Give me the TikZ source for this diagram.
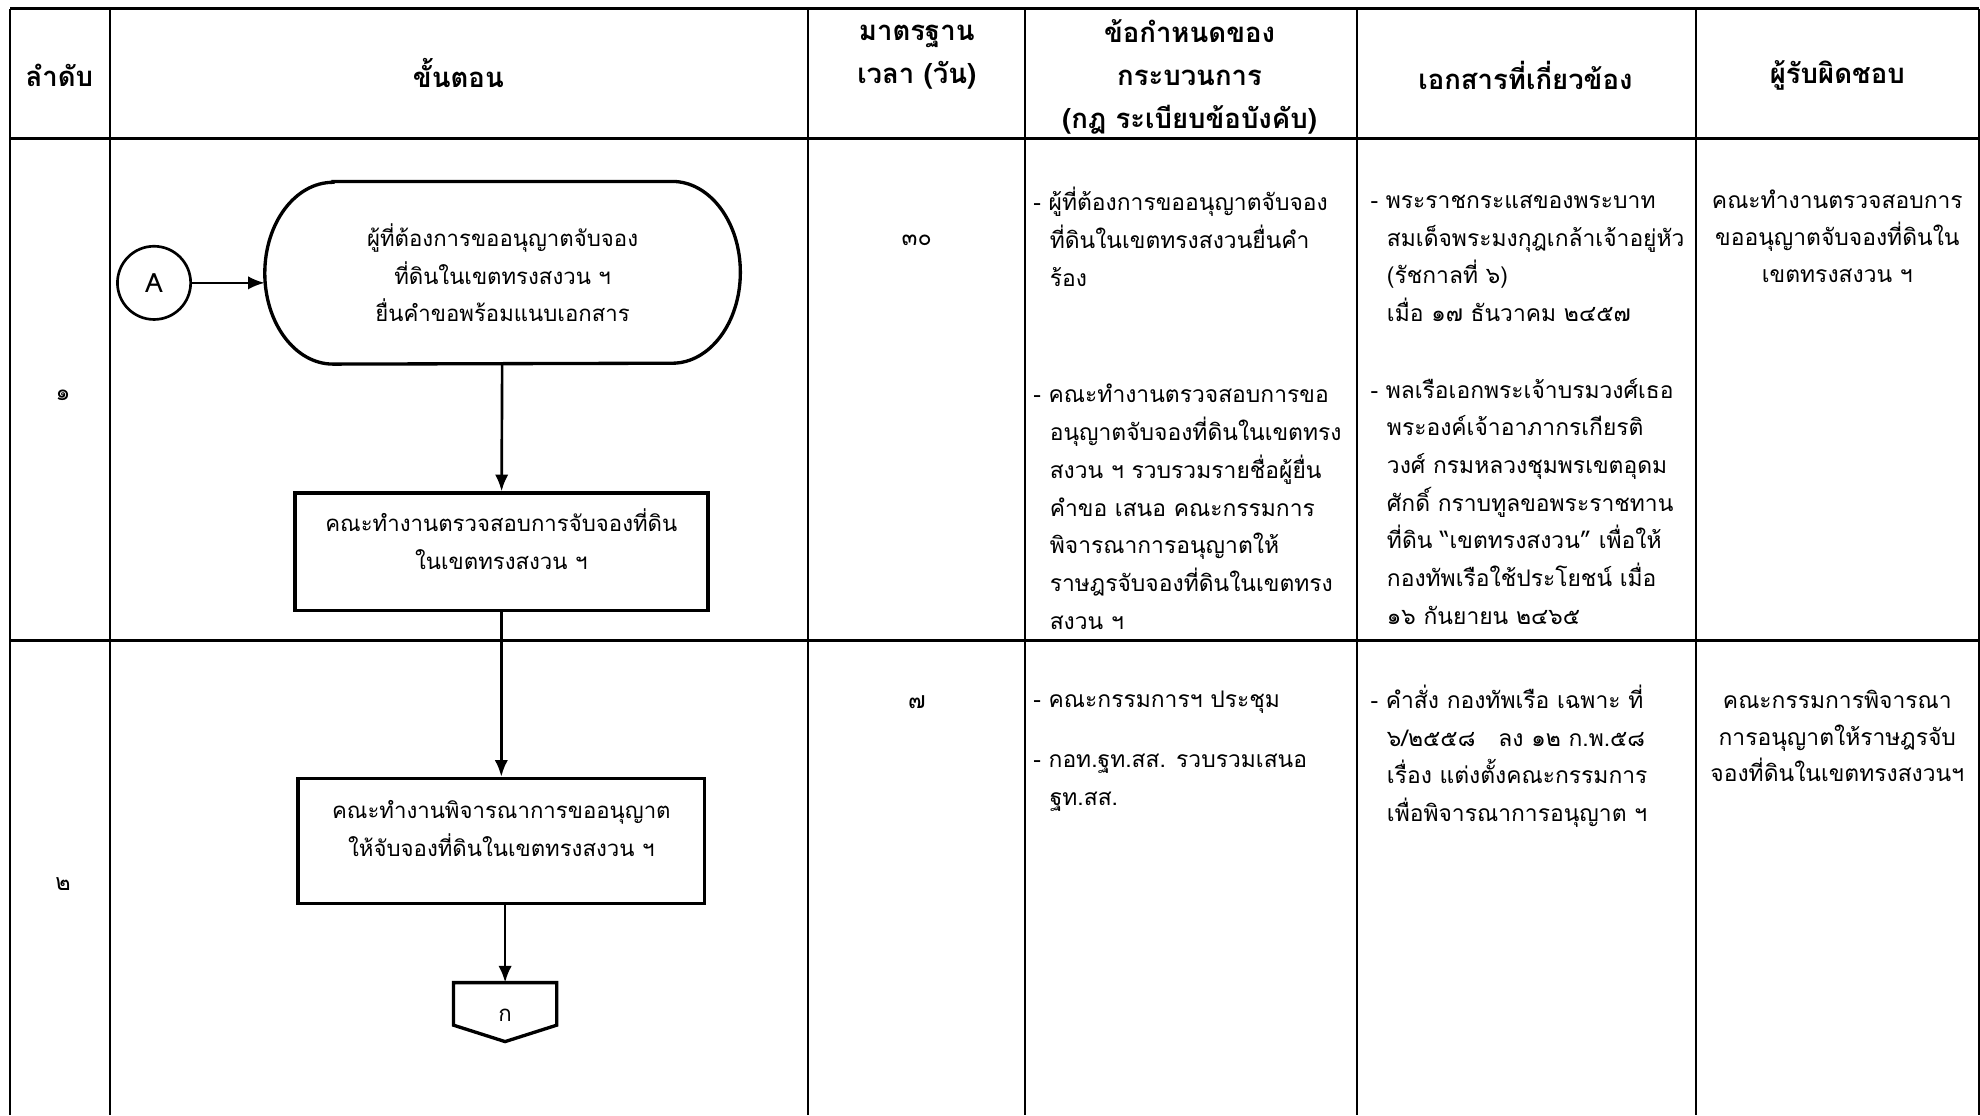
\documentclass[tikz,border=0pt]{standalone}
\usepackage{fontspec}
\setmainfont{Loma}[Script=Thai]
\usetikzlibrary{positioning,calc,arrows.meta}

\newcommand{\ind}{\hspace*{0.26cm}}
\newcommand{\lifted}[2]{\raisebox{#1}[\height][\depth]{\begin{tabular}{@{}c@{}}#2\end{tabular}}}
\tikzset{
  head/.style={font=\bfseries\fontsize{12.4}{19.4}\selectfont, align=center, inner sep=0pt},
  cell/.style={font=\fontsize{10.3}{17}\selectfont, align=left, anchor=north west, inner sep=0pt},
  mid/.style={font=\fontsize{10.3}{16.6}\selectfont, align=center, anchor=north, inner sep=0pt},
  num/.style={font=\fontsize{10.5}{17}\selectfont, inner sep=0pt},
  grid/.style={line width=0.9pt},
  rowline/.style={line width=1.4pt},
  shapeline/.style={line width=1.5pt},
  term/.style={minimum width=7.52cm, minimum height=2.88cm, inner sep=0pt,
    font=\fontsize{10}{17}\selectfont, align=center},
  proc/.style={draw, line width=1.6pt, minimum width=6.54cm, minimum height=1.86cm,
    font=\fontsize{10}{17}\selectfont, align=center},
  conn/.style={draw, circle, line width=1.2pt, minimum size=1.16cm, inner sep=0pt,
    font=\fontsize{12}{14}\selectfont},
  flow/.style={line width=1.2pt, -{Latex[length=7.5pt,width=6pt]}},
}

\begin{document}
\begin{tikzpicture}[x=0.02cm, y=-0.02cm]
  \useasboundingbox (0,0) rectangle (1568,883);

  % table
  \foreach \x in {8,87,640,812,1075,1343,1567}
    \draw[grid] (\x,7) -- (\x,883);
  \foreach \y in {7,110,507}
    \draw[rowline] (8,\y) -- (1567,\y);

  % header
  \node[head] (hno) at (47,60) {ลำดับ};
  \node[head] (hstep) at (363,58) {ขั้นตอน};
  \node[head] (htime) at (726,45) {มาตรฐาน\\เวลา (วัน)};
  \node[head] (hrule) at (942,61) {ข้อกำหนดของ\\กระบวนการ\\(กฎ ระเบียบข้อบังคับ)};
  \node[head] (hdoc) at (1208,60) {เอกสารที่เกี่ยวข้อง};
  \node[head] (hresp) at (1455,60) {ผู้รับผิดชอบ};

  % row 1
  \node[num] (no1) at (50,313) {๑};
  \node[num] (time1) at (726,190) {๓๐};
  \node[conn] (A) at (122,224) {A};
  \node[term] (apply) at (398,216) {ผู้ที่ต้องการขออนุญาตจับจอง\\ที่ดินในเขตทรงสงวน ฯ\\ยื่นคำขอพร้อมแนบเอกสาร};
  \draw[shapeline] ($(apply.north west)+(54,0)$) -- ($(apply.north east)+(-54,0)$)
    arc[start angle=90, end angle=-90, x radius=1.08cm, y radius=1.44cm]
    -- ($(apply.south west)+(54,0)$)
    arc[start angle=270, end angle=90, x radius=1.08cm, y radius=1.44cm] -- cycle;
  \node[proc] (check) at (397,437) {\lifted{4pt}{คณะทำงานตรวจสอบการจับจองที่ดิน\\ในเขตทรงสงวน ฯ}};
  \node[cell] (rule1a) at (818,148) {- ผู้ที่ต้องการขออนุญาตจับจอง\\\ind ที่ดินในเขตทรงสงวนยื่นคำ\\\ind ร้อง};
  \node[cell] (rule1b) at (818,304) {- คณะทำงานตรวจสอบการขอ\\\ind อนุญาตจับจองที่ดินในเขตทรง\\\ind สงวน ฯ รวบรวมรายชื่อผู้ยื่น\\\ind คำขอ เสนอ คณะกรรมการ\\\ind พิจารณาการอนุญาตให้\\\ind ราษฎรจับจองที่ดินในเขตทรง\\\ind สงวน ฯ};
  \node[cell] (doc1a) at (1085,154) {- พระราชกระแสของพระบาท\\\ind สมเด็จพระมงกุฎเกล้าเจ้าอยู่หัว\\\ind (รัชกาลที่ ๖)\\\ind เมื่อ ๑๗ ธันวาคม ๒๔๕๗};
  \node[cell] (doc1b) at (1085,299) {- พลเรือเอกพระเจ้าบรมวงศ์เธอ\\\ind พระองค์เจ้าอาภากรเกียรติ\\\ind วงศ์ กรมหลวงชุมพรเขตอุดม\\\ind ศักดิ์ กราบทูลขอพระราชทาน\\\ind ที่ดิน “เขตทรงสงวน” เพื่อให้\\\ind กองทัพเรือใช้ประโยชน์ เมื่อ\\\ind ๑๖ กันยายน ๒๔๖๕};
  \node[mid] (resp1) at (1455,150) {คณะทำงานตรวจสอบการ\\ขออนุญาตจับจองที่ดินใน\\เขตทรงสงวน ฯ};

  % row 2
  \node[num] (no2) at (50,700) {๒};
  \node[num] (time2) at (726,556) {๗};
  \node[proc, minimum width=6.44cm, minimum height=1.98cm] (consider) at (397,666) {\lifted{5pt}{คณะทำงานพิจารณาการขออนุญาต\\ให้จับจองที่ดินในเขตทรงสงวน ฯ}};
  \node[minimum width=1.62cm, minimum height=0.66cm, inner sep=0pt, font=\fontsize{10}{12}\selectfont] (goto) at (400,795) {\raisebox{-0.18cm}[\height][\depth]{ก}};
  \draw[shapeline] (goto.south west) -- (goto.north west) -- (goto.north east)
    -- (goto.south east) -- ($(goto.south)+(0,13)$) -- cycle;
  \node[cell] (rule2a) at (818,547) {- คณะกรรมการฯ ประชุม};
  \node[cell] (rule2b) at (818,597) {- กอท.ฐท.สส. รวบรวมเสนอ\\\ind ฐท.สส.};
  \node[cell] (doc2) at (1085,542) {- คำสั่ง กองทัพเรือ เฉพาะ ที่\\\ind ๖/๒๕๕๘\ \ \ ลง ๑๒ ก.พ.๕๘\\\ind เรื่อง แต่งตั้งคณะกรรมการ\\\ind เพื่อพิจารณาการอนุญาต ฯ};
  \node[mid] (resp2) at (1455,546) {คณะกรรมการพิจารณา\\การอนุญาตให้ราษฎรจับ\\จองที่ดินในเขตทรงสงวนฯ};

  % flow
  \draw[flow] (A.east) -- (A.east -| apply.west);
  \draw[flow] (apply) -- (check);
  \draw[flow] (check) -- (consider);
  \draw[flow] (consider.south -| goto.north) -- (goto.north);
\end{tikzpicture}
\end{document}
